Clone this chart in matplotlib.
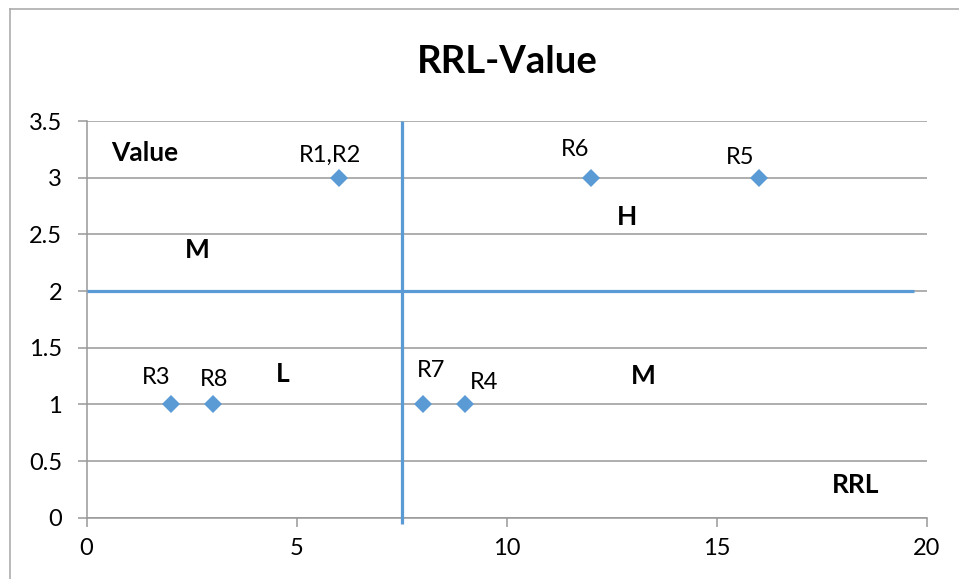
import matplotlib
matplotlib.use("Agg")
import matplotlib.pyplot as plt
from matplotlib.lines import Line2D

plt.rcParams['font.family'] = ['Lato', 'DejaVu Sans']

# Data points (RRL, Value)
names = ["R1,R2", "R6", "R5", "R3", "R8", "R7", "R4"]
rrl = [6, 12, 16, 2, 3, 8, 9]
value = [3, 3, 3, 1, 1, 1, 1]
# label anchors for each point name
label_x = [5.79, 11.62, 15.55, 1.65, 3.03, 8.20, 9.46]
label_y = [3.20, 3.245, 3.18, 1.24, 1.22, 1.30, 1.19]

# quadrant dividers
split_rrl = 7.5
split_value = 2.0

# region / axis captions
region_text = ["Value", "M", "H", "L", "M", "RRL"]
region_x = [1.39, 2.63, 12.86, 4.68, 13.24, 18.31]
region_y = [3.22, 2.36, 2.65, 1.27, 1.25, 0.29]

x_ticks = [0, 5, 10, 15, 20]
y_ticks = [0, 0.5, 1, 1.5, 2, 2.5, 3, 3.5]

blue = "#5B9BD5"
grid_gray = "#989898"

fig = plt.figure(figsize=(9.59, 5.79), dpi=100)
ax = fig.add_axes([0.0902, 0.1059, 0.8764, 0.6851])

ax.set_xlim(0, 20)
ax.set_ylim(0, 3.5)
ax.set_xticks(x_ticks)
ax.set_yticks(y_ticks)
ax.set_xticklabels([str(t) for t in x_ticks])
ax.set_yticklabels([f"{t:g}" for t in y_ticks])

for s in ["top", "right"]:
    ax.spines[s].set_visible(False)
for s in ["left", "bottom"]:
    ax.spines[s].set_color(grid_gray)
    ax.spines[s].set_linewidth(1.1)

ax.yaxis.grid(True, color=grid_gray, linewidth=1.1)
ax.set_axisbelow(True)
ax.tick_params(axis="both", direction="out", length=6.5, width=1.1,
               color=grid_gray, labelsize=17, labelcolor="black")
ax.tick_params(axis="y", pad=11)
ax.tick_params(axis="x", pad=8)

# divider lines
ax.plot([split_rrl, split_rrl], [-0.055, 3.5], color=blue, linewidth=2.3,
        clip_on=False, solid_capstyle="butt", zorder=3)
ax.plot([0, 19.7], [split_value, split_value], color=blue, linewidth=2.3,
        solid_capstyle="butt", zorder=3)

ax.plot(rrl, value, linestyle="none", marker="D", markersize=9.5,
        markerfacecolor=blue, markeredgewidth=0, zorder=4)

for n, lx, ly in zip(names, label_x, label_y):
    ax.text(lx, ly, n, ha="center", va="center", fontsize=17)

for t, tx, ty in zip(region_text, region_x, region_y):
    ax.text(tx, ty, t, ha="center", va="center", fontsize=19, fontweight="bold")

fig.text(507 / 959, 1 - 62 / 579, "RRL-Value", ha="center", va="center",
         fontsize=27.5, fontweight="bold")

# chart-area frame
fig.add_artist(Line2D([10 / 959, 10 / 959], [0, 1 - 9 / 579],
                      transform=fig.transFigure, color="#A6A6A6", linewidth=1.1))
fig.add_artist(Line2D([10 / 959, 1], [1 - 9 / 579, 1 - 9 / 579],
                      transform=fig.transFigure, color="#A6A6A6", linewidth=1.1))

fig.savefig("out.png", dpi=100)
